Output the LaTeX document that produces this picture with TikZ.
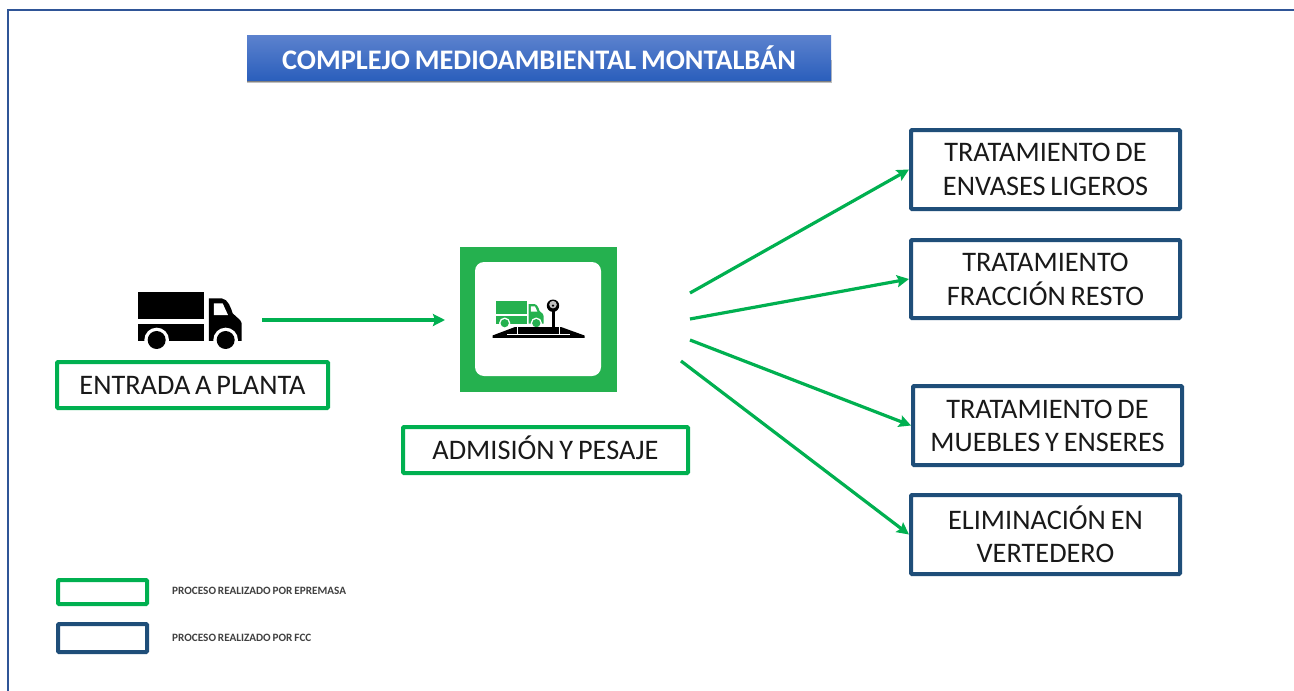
\documentclass[tikz,border=0pt]{standalone}
\usepackage{fontspec}
\setmainfont[WordSpace=0.75]{Carlito}
\usetikzlibrary{arrows.meta}
\definecolor{epgreen}{HTML}{00B050}
\definecolor{iconG}{HTML}{25B14F}
\definecolor{fccblue}{HTML}{1F4E79}
\definecolor{framec}{HTML}{2F5597}
\definecolor{titleTop}{HTML}{5C82CE}
\definecolor{titleBot}{HTML}{2B5FBC}
\tikzset{
  procbox/.style={draw,line width=4pt,rounded corners=1pt,fill=white,align=center,inner sep=0pt,
     font=\fontsize{28.3}{34}\selectfont,text=black!90},
  greenbox/.style={procbox,draw=epgreen},
  bluebox/.style={procbox,draw=fccblue},
  flow/.style={draw=epgreen,line width=3.2pt,-{Stealth[length=12pt,width=12pt,inset=2pt]}},
  legendtext/.style={anchor=west,inner sep=0pt,font=\fontsize{11.2}{13}\selectfont\bfseries,text=black!75}
}
% truck drawn in a local coordinate system: #1 colour, #2 shift, #3 scale
\newcommand{\truckicon}[4]{%
\begin{scope}[shift={(#2,#3)},x=#4pt,y=-#4pt]
  \fill[#1] (55,35) rectangle (253,118);
  \fill[#1] (55,133) rectangle (253,183);
  \fill[#1] (267,55) -- (305,55) .. controls (325,57) and (333,85) .. (338,100) -- (360,120) .. controls (365,125) and (365,130) .. (365,135) -- (365,183) -- (267,183) -- cycle;
  \fill[white] (282,70) -- (308,70) -- (324,105) -- (282,105) -- cycle;
  \fill[white] (110,180) circle (37*#4pt);
  \fill[white] (317,180) circle (37*#4pt);
  \fill[#1] (110,180) circle (27*#4pt);
  \fill[#1] (317,180) circle (27*#4pt);
\end{scope}}
\begin{document}
\begin{tikzpicture}[x=1pt,y=-1pt]
\useasboundingbox (0,0) rectangle (1294,691);
\fill[white] (0,0) rectangle (1294,691);
\draw[framec,line width=1.5pt] (8,691) -- (8,10) -- (1294,10);

% title
\fill[black!25] (247,60) rectangle (832,83);
\fill[black!50] (247,60) rectangle (831,81.5);
\node[minimum width=584pt,minimum height=45pt,inner sep=0pt,top color=titleTop,bottom color=titleBot,
      text=white,font=\fontsize{28.3}{30}\selectfont\bfseries] (title) at (539,57.5) {COMPLEJO MEDIOAMBIENTAL MONTALBÁN};

% left part
\truckicon{black}{120}{280}{0.3333}
\node[greenbox,minimum width=271pt,minimum height=46pt] (entrada) at (192.5,385) {ENTRADA A PLANTA};

% scale icon
\node[fill=iconG,minimum width=157pt,minimum height=145pt,inner sep=0pt] (icon) at (538.5,319.5) {};
\fill[white,rounded corners=9pt] (475,262) rectangle (601,376);
\truckicon{iconG}{487.9}{295.66}{0.1527}
\fill[black] (492.5,335.5) -- (515,327) -- (561,327) -- (584.5,335.5) -- (584.5,337.8) -- (492.5,337.8) -- cycle;
\draw[white,line width=.7pt] (517.7,327) -- (517.7,334.5) (559,327) -- (559,334.5) (507,334.7) -- (570,334.7);
\draw[black,line width=2.6pt] (553.3,310) -- (553.3,327);
\fill[black] (553,305.7) circle (6.2pt);
\fill[black!25] (553,304.6) circle (3.8pt);
\fill[black] (553,305.6) circle (1.3pt);

\node[greenbox,minimum width=285pt,minimum height=46pt,text height=20pt,text depth=2pt] (admision) at (545.5,450) {ADMISIÓN Y PESAJE};

% right boxes
\node[bluebox,minimum width=269pt,minimum height=79pt] (envases) at (1045.5,169.5) {TRATAMIENTO DE\\ENVASES LIGEROS};
\node[bluebox,minimum width=269pt,minimum height=78pt] (resto) at (1045.5,279) {TRATAMIENTO\\FRACCIÓN RESTO};
\node[bluebox,minimum width=269pt,minimum height=79pt] (muebles) at (1047.5,425.5) {TRATAMIENTO DE\\[-1pt]MUEBLES Y ENSERES};
\node[bluebox,minimum width=269pt,minimum height=79pt] (vertedero) at (1045.5,534.5) {ELIMINACIÓN EN\\[-1pt]VERTEDERO};

% connectors
\coordinate (truckout) at (262,320);
\coordinate (iconin) at (445,320);
\coordinate (s1) at (690,293);
\coordinate (s2) at (690,319);
\coordinate (s3) at (690,340);
\coordinate (s4) at (681,361);
\draw[flow] (truckout) -- (iconin);
\draw[flow] (s1) -- (envases.west);
\draw[flow] (s2) -- (resto.west);
\draw[flow] (s3) -- (muebles.west);
\draw[flow] (s4) -- (vertedero.west);

% legend
\node[greenbox,minimum width=89pt,minimum height=24pt] (lg) at (102.5,592) {};
\node[bluebox,minimum width=89pt,minimum height=28pt] (lb) at (102.5,638) {};
\node[legendtext] (lgt) at (172,591) {PROCESO REALIZADO POR EPREMASA};
\node[legendtext] (lbt) at (172,638) {PROCESO REALIZADO POR FCC};
\end{tikzpicture}
\end{document}
